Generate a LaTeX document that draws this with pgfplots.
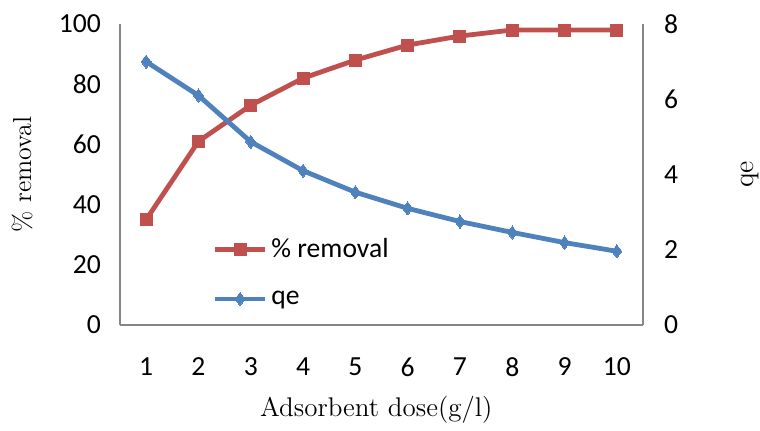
\documentclass[border=0pt]{standalone}
\usepackage{pgfplots}
\pgfplotsset{compat=1.18}
\usepackage{fontspec}
\newfontfamily\calibri{Carlito}
\definecolor{exred}{HTML}{C0504D}
\definecolor{exblue}{HTML}{4F81BD}
\definecolor{axgray}{HTML}{868686}

\begin{document}
\begin{tikzpicture}
\useasboundingbox (-60pt,-53pt) rectangle (320pt,162.5pt);
\pgfplotsset{common/.style={scale only axis, width=261.5pt, height=150.5pt,
  at={(0,0)}, anchor=south west, xmin=0.5, xmax=10.5,
  major tick length=0pt,
  axis line style={axgray, line width=0.8pt},
  tick label style={font=\calibri\fontsize{13.8}{16}\selectfont},
  /pgf/number format/assume math mode=true, clip=false},
  redstyle/.style={exred, line width=2.4pt, line join=round, mark=square*, mark size=3pt, mark options={fill=exred, draw=exred, line width=0pt}},
  bluestyle/.style={exblue, line width=2.4pt, line join=round, mark=diamond*, mark size=3.3pt, mark options={fill=exblue, draw=exblue, line width=0pt}}
}
\begin{axis}[common, axis x line*=bottom, axis y line*=left,
  ymin=0, ymax=100, ytick={0,20,...,100},
  xtick={1,...,10},
  xticklabel style={yshift=-13pt},
  yticklabel style={xshift=-6pt},
  xlabel={Adsorbent dose(g/l)},
  xlabel style={at={(axis description cs:0.49,-0.2824)}, anchor=center, font=\fontsize{13.5}{16}\selectfont},
  ylabel={\% removal},
  ylabel style={at={(axis description cs:-0.1874,0.5)}, anchor=center, font=\fontsize{13}{15}\selectfont},
]
\addplot[redstyle] coordinates {(1,35) (2,61) (3,73) (4,82) (5,88) (6,93) (7,96) (8,98) (9,98) (10,98)};
\end{axis}
\begin{axis}[common, axis x line=none, axis y line*=right,
  ymin=0, ymax=8, ytick={0,2,...,8},
  yticklabel style={xshift=7pt},
  ylabel={qe},
  ylabel style={at={(axis description cs:1.2046,0.5)}, anchor=center, font=\fontsize{14}{16}\selectfont},
  legend style={at={(axis description cs:0.165,0.315)}, anchor=north west, draw=none, fill=none,
    font=\calibri\fontsize{13.8}{16}\selectfont, row sep=11pt},
  legend cell align=left,
  legend image code/.code={\draw[#1, mark repeat=2, mark phase=2] plot coordinates {(0pt,0pt) (12.5pt,0pt) (25pt,0pt)};},
]
\addlegendimage{redstyle}
\addlegendentry{\% removal}
\addplot[bluestyle] coordinates {(1,7.0) (2,6.1) (3,4.87) (4,4.1) (5,3.53) (6,3.1) (7,2.75) (8,2.46) (9,2.19) (10,1.96)};
\addlegendentry{qe}
\end{axis}
\end{tikzpicture}
\end{document}
